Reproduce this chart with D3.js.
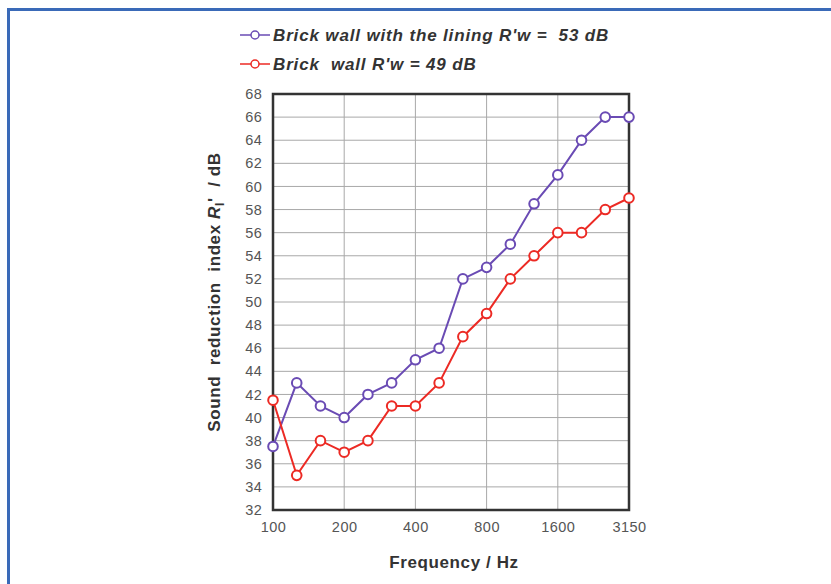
<!DOCTYPE html>
<html>
<head>
<meta charset="utf-8">
<script src="https://cdn.jsdelivr.net/npm/d3@7"></script>
<style>
  body { margin: 0; background: #fff; }
  svg { font-family: Arial, "Liberation Sans", sans-serif; }
  text { white-space: pre; }
</style>
</head>
<body>
<svg id="chart" width="831" height="584"></svg>
<script>
// third-octave band centre frequencies
const freqs = [100, 125, 160, 200, 250, 315, 400, 500, 630, 800, 1000, 1250, 1600, 2000, 2500, 3150];
const tickFreqs = [100, 200, 400, 800, 1600, 3150];
const lined = [37.5, 43, 41, 40, 42, 43, 45, 46, 52, 53, 55, 58.5, 61, 64, 66, 66];
const plain = [41.5, 35, 38, 37, 38, 41, 41, 43, 47, 49, 52, 54, 56, 56, 58, 59];
const seriesNames = ["Brick wall with the lining R'w =  53 dB", "Brick  wall R'w = 49 dB"];
const yTicks = d3.range(32, 69, 2);

let svg = d3.select('#chart');

// blue frame round the figure
svg.append('rect')
    .attr('x', 8.5).attr('y', 9.5)
    .attr('width', 900).attr('height', 700)
    .attr('fill', 'none')
    .attr('stroke', '#3a6ab8')
    .attr('stroke-width', 3);

let pLeft = 273, pRight = 629, pTop = 94, pBottom = 510;

let x = d3.scalePoint().domain(freqs).range([pLeft, pRight]);
let y = d3.scaleLinear().domain([32, 68]).range([pBottom, pTop]);

// grid
svg.append('g').selectAll('line').data(yTicks.slice(1, -1)).enter().append('line')
    .attr('x1', pLeft).attr('x2', pRight)
    .attr('y1', d => y(d)).attr('y2', d => y(d))
    .attr('stroke', '#a8a8a8').attr('stroke-width', 1);
svg.append('g').selectAll('line').data(tickFreqs.slice(1, -1)).enter().append('line')
    .attr('x1', d => x(d)).attr('x2', d => x(d))
    .attr('y1', pTop).attr('y2', pBottom)
    .attr('stroke', '#a8a8a8').attr('stroke-width', 1);

// y axis labels
let yAxis = d3.axisLeft(y).tickValues(yTicks).tickSize(0).tickPadding(11);
let yg = svg.append('g').attr('transform', `translate(${pLeft},0)`).call(yAxis);
yg.select('.domain').remove();
yg.selectAll('text').attr('font-size', 14.5).attr('fill', '#555').attr('letter-spacing', 0.3);

// x axis labels
let xAxis = d3.axisBottom(x).tickValues(tickFreqs).tickSize(0).tickPadding(12);
let xg = svg.append('g').attr('transform', `translate(0,${pBottom})`).call(xAxis);
xg.select('.domain').remove();
xg.selectAll('text').attr('font-size', 14.5).attr('fill', '#555').attr('letter-spacing', 0.5);

// plot frame
svg.append('rect')
    .attr('x', pLeft).attr('y', pTop)
    .attr('width', pRight - pLeft).attr('height', pBottom - pTop)
    .attr('fill', 'none').attr('stroke', '#333').attr('stroke-width', 2.5);

// axis titles
svg.append('text')
    .attr('x', (pLeft + pRight) / 2 + 3).attr('y', 568)
    .attr('text-anchor', 'middle')
    .attr('font-size', 17).attr('font-weight', 'bold').attr('fill', '#333')
    .attr('letter-spacing', 0.6)
    .text('Frequency / Hz');

let yt = svg.append('text')
    .attr('transform', 'translate(220,292) rotate(-90)')
    .attr('text-anchor', 'middle')
    .attr('font-size', 17).attr('font-weight', 'bold').attr('fill', '#333')
    .attr('letter-spacing', 0.6);
yt.append('tspan').text('Sound  reduction  index ');
yt.append('tspan').attr('font-style', 'italic').text('R');
yt.append('tspan').attr('font-size', 12).attr('dy', 4).text('l');
yt.append('tspan').attr('dy', -4).text("'  / dB");

// series
let colors = ['#6a4bb4', '#ec2a24'];
let series = [lined, plain];
let line = d3.line().x((d, i) => x(freqs[i])).y(d => y(d));

series.forEach((s, k) => {
    svg.append('path')
        .attr('d', line(s))
        .attr('fill', 'none')
        .attr('stroke', colors[k]).attr('stroke-width', 2);
    svg.append('g').selectAll('circle').data(s).enter().append('circle')
        .attr('cx', (d, i) => x(freqs[i]))
        .attr('cy', d => y(d))
        .attr('r', 4.8)
        .attr('fill', '#fff')
        .attr('stroke', colors[k]).attr('stroke-width', 2);
});

// legend
seriesNames.forEach((name, k) => {
    let ly = 35 + k * 29;
    svg.append('line')
        .attr('x1', 240).attr('x2', 270).attr('y1', ly).attr('y2', ly)
        .attr('stroke', colors[k]).attr('stroke-width', 1.5);
    svg.append('circle')
        .attr('cx', 255).attr('cy', ly).attr('r', 4)
        .attr('fill', '#fff').attr('stroke', colors[k]).attr('stroke-width', 1.5);
    svg.append('text')
        .attr('x', 273).attr('y', ly + 6)
        .attr('font-size', 17).attr('font-weight', 'bold').attr('font-style', 'italic')
        .attr('fill', '#333')
        .attr('letter-spacing', 0.85)
        .text(name);
});
</script>
</body>
</html>
